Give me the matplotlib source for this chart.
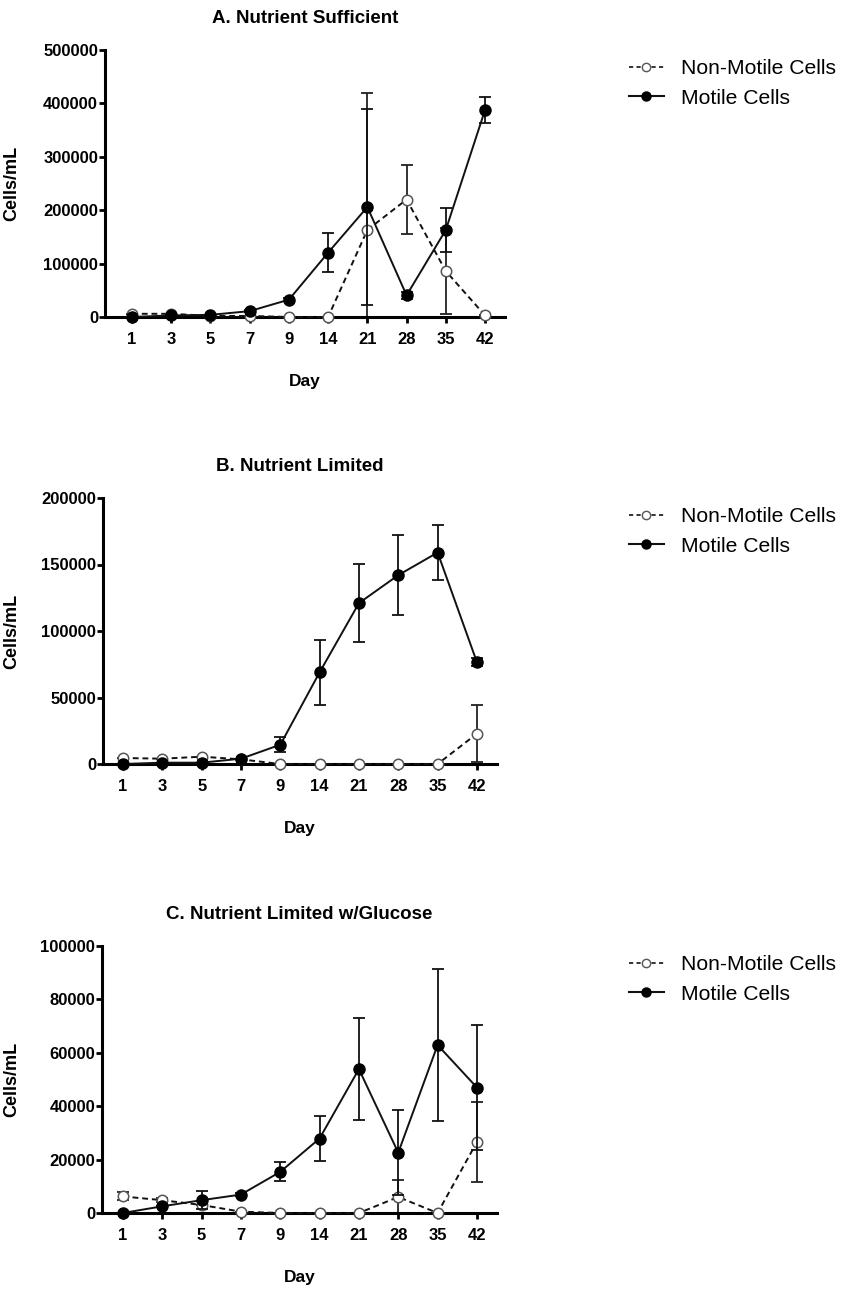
import numpy as np
import matplotlib
matplotlib.use("Agg")
import matplotlib.pyplot as plt
from matplotlib.lines import Line2D

plt.rcParams['font.family'] = ['Liberation Sans', 'DejaVu Sans']

# ========================
# DATA
# ========================
days = ['1', '3', '5', '7', '9', '14', '21', '28', '35', '42']

# A. Nutrient Sufficient
a_non = [6000, 6000, 2000, 2000, 0, 0, 163000, 220000, 86000, 3000]
a_non_err = [0, 0, 0, 0, 0, 0, 257000, 65000, 81000, 0]
a_mot = [0, 3000, 4000, 11000, 32500, 120600, 206000, 40600, 163000, 387500]
a_mot_err = [0, 0, 0, 2000, 3000, 36000, 184000, 6000, 41000, 24000]

# B. Nutrient Limited
b_non = [4500, 4000, 5500, 3500, 0, 0, 0, 0, 0, 22800]
b_non_err = [0, 0, 0, 0, 0, 0, 0, 0, 0, 21600]
b_mot = [0, 1000, 1000, 4000, 14500, 69000, 121000, 142000, 159000, 76500]
b_mot_err = [0, 0, 0, 0, 5500, 24500, 29500, 30000, 21000, 3000]

# C. Nutrient Limited w/Glucose
c_non = [6200, 4800, 3000, 500, 0, 0, 0, 6000, 0, 26600]
c_non_err = [1500, 800, 0, 0, 0, 0, 0, 6300, 0, 15000]
c_mot = [0, 2500, 4800, 6900, 15400, 27900, 53900, 22600, 62900, 47000]
c_mot_err = [0, 0, 3400, 600, 3600, 8600, 19000, 16000, 28500, 23500]

W, H = 846, 1292


def px_axes(left, top, right, bottom):
    return [left / W, 1 - bottom / H, (right - left) / W, (bottom - top) / H]


def draw_panel(fig, rect, title, non, non_err, mot, mot_err, ymax, ystep, xleft, legend_y):
    ax = fig.add_axes(rect)
    x = np.arange(len(days))
    non = np.array(non, float)
    mot = np.array(mot, float)
    non_err = np.array(non_err, float)
    mot_err = np.array(mot_err, float)
    # lower error bars stop at 0
    non_yerr = [np.minimum(non_err, non), non_err]
    mot_yerr = [np.minimum(mot_err, mot), mot_err]

    ax.errorbar(x, non, yerr=non_yerr, fmt='none', ecolor='#222222', elinewidth=1.3,
                capsize=4, capthick=1.3, zorder=2, clip_on=False)
    ax.plot(x, non, linestyle=(0, (3, 2)), color='#111111', linewidth=1.4,
            marker='o', markersize=7.5, markerfacecolor='white', markeredgecolor='#555555',
            markeredgewidth=1.1, zorder=3, clip_on=False)
    ax.errorbar(x, mot, yerr=mot_yerr, fmt='none', ecolor='#111111', elinewidth=1.3,
                capsize=4, capthick=1.3, zorder=4, clip_on=False)
    ax.plot(x, mot, linestyle='-', color='#111111', linewidth=1.4,
            marker='o', markersize=8, markerfacecolor='black', markeredgecolor='black',
            zorder=5, clip_on=False)

    ax.set_xlim(xleft, len(days) - 0.49)
    ax.set_ylim(0, ymax)
    ax.set_yticks(np.arange(0, ymax + 1, ystep))
    ax.set_xticks(x)
    ax.set_xticklabels(days)

    for s in ['top', 'right']:
        ax.spines[s].set_visible(False)
    for s in ['left', 'bottom']:
        ax.spines[s].set_linewidth(2.2)
        ax.spines[s].set_color('black')
    ax.tick_params(axis='both', direction='out', length=4, width=2, color='black',
                   labelsize=12)
    ax.tick_params(axis='y', pad=1)
    ax.tick_params(axis='x', pad=6.5)
    for lab in ax.get_xticklabels() + ax.get_yticklabels():
        lab.set_fontweight('bold')

    ax.set_title(title, fontsize=13.5, fontweight='bold', pad=19.5)
    ax.set_xlabel('Day', fontsize=12.5, fontweight='bold', labelpad=20)
    ax.set_ylabel('Cells/mL', fontsize=13, fontweight='bold')
    l, b, w, h = rect
    ax.yaxis.set_label_coords((20 / W - l) / w, 0.5)

    handles = [
        Line2D([], [], linestyle=(0, (2.5, 2)), color='#111111', linewidth=1.2, marker='o',
               markersize=6, markerfacecolor='white', markeredgecolor='#555555'),
        Line2D([], [], linestyle='-', color='#111111', linewidth=1.5, marker='o',
               markersize=6.5, markerfacecolor='black', markeredgecolor='black'),
    ]
    fig.legend(handles, ['Non-Motile Cells', 'Motile Cells'],
               loc='upper left', bbox_to_anchor=(629 / W, 1 - legend_y / H),
               frameon=False, fontsize=15.2, handlelength=1.65, handletextpad=0.8,
               labelspacing=0.5, borderpad=0, borderaxespad=0)
    return ax


fig = plt.figure(figsize=(W / 100, H / 100), dpi=100)

draw_panel(fig, px_axes(105, 50, 505, 317), 'A. Nutrient Sufficient',
           a_non, a_non_err, a_mot, a_mot_err, 500000, 100000, -0.69, 59)
draw_panel(fig, px_axes(103, 498, 497, 764), 'B. Nutrient Limited',
           b_non, b_non_err, b_mot, b_mot_err, 200000, 50000, -0.51, 507)
draw_panel(fig, px_axes(102, 946, 497, 1213), 'C. Nutrient Limited w/Glucose',
           c_non, c_non_err, c_mot, c_mot_err, 100000, 20000, -0.53, 955)

fig.savefig('out.png', dpi=100)
